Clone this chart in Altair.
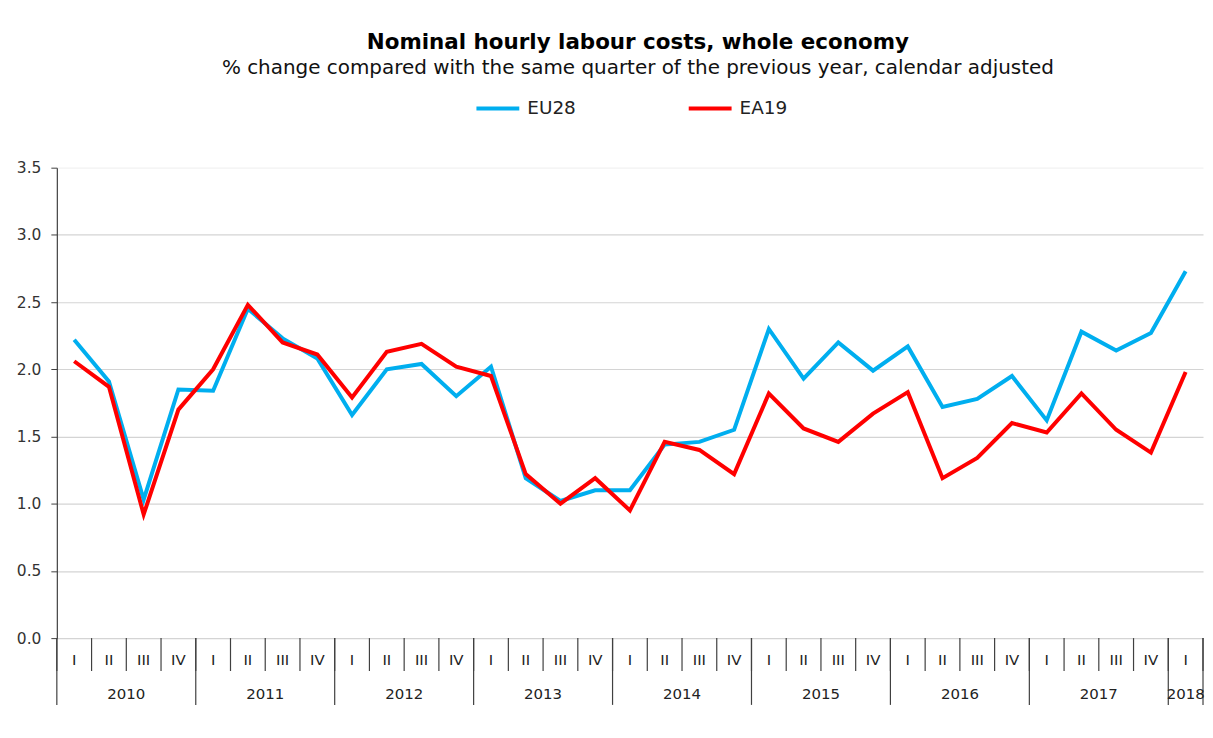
import altair as alt
import pandas as pd

years = ["2010", "2011", "2012", "2013", "2014", "2015", "2016", "2017", "2018"]
quarters = ["I", "II", "III", "IV"]

eu28 = [2.22, 1.91, 1.03, 1.85, 1.84, 2.45, 2.23, 2.08, 1.66, 2.00, 2.04,
        1.80, 2.02, 1.19, 1.02, 1.10, 1.10, 1.44, 1.46, 1.55, 2.30, 1.93,
        2.20, 1.99, 2.17, 1.72, 1.78, 1.95, 1.62, 2.28, 2.14, 2.27, 2.73]
ea19 = [2.06, 1.87, 0.92, 1.70, 2.00, 2.48, 2.20, 2.11, 1.79, 2.13, 2.19,
        2.02, 1.95, 1.22, 1.00, 1.19, 0.95, 1.46, 1.40, 1.22, 1.82, 1.56,
        1.46, 1.67, 1.83, 1.19, 1.34, 1.60, 1.53, 1.82, 1.55, 1.38, 1.98]

series_names = ["EU28", "EA19"]
series_colors = ["#00AEEF", "#FF0000"]

n = len(eu28)
W, H = 1150, 472
FONT = "DejaVu Sans"

lines_df = pd.DataFrame({
    "pos": [i + 0.5 for i in range(n)] * 2,
    "value": eu28 + ea19,
    "series": ["EU28"] * n + ["EA19"] * n,
    "order": list(range(n)) * 2,
})
qlab_df = pd.DataFrame({"pos": [i + 0.5 for i in range(n)],
                        "label": [quarters[i % 4] for i in range(n)]})
qtick_df = pd.DataFrame({"pos": list(range(n + 1))})
year_bounds = sorted(set(list(range(0, n, 4)) + [n]))
ytick_df = pd.DataFrame({"pos": year_bounds})
ylab_rows = []
for k, yr in enumerate(years):
    s = 4 * k
    e = min(4 * k + 4, n)
    if s < n:
        ylab_rows.append({"pos": (s + e) / 2, "label": yr})
ylab_df = pd.DataFrame(ylab_rows)

xscale = alt.Scale(domain=[0, n], nice=False, zero=False)

lines = alt.Chart(lines_df).mark_line(strokeWidth=4, strokeJoin="miter").encode(
    x=alt.X("pos:Q", scale=xscale,
            axis=alt.Axis(labels=False, ticks=False, grid=False, title=None,
                          domainColor="#404040", domainWidth=1.2)),
    y=alt.Y("value:Q", scale=alt.Scale(domain=[0, 3.5], nice=False),
            axis=alt.Axis(values=[0, 0.5, 1, 1.5, 2, 2.5, 3, 3.5], format=".1f",
                          title=None, tickSize=6, tickColor="#404040",
                          domainColor="#404040", domainWidth=1.2,
                          labelPadding=10, labelFont=FONT, labelFontSize=15.5,
                          labelColor="#333333",
                          gridColor=alt.condition("datum.value >= 3.5",
                                                  alt.value("#f2f2f2"),
                                                  alt.value("#d4d4d4")),
                          gridWidth=1.2)),
    color=alt.Color("series:N",
                    scale=alt.Scale(domain=series_names, range=series_colors),
                    legend=alt.Legend(title=None, orient="none", direction="horizontal",
                                      legendX=419, legendY=-83,
                                      symbolType="stroke", symbolSize=1849,
                                      symbolStrokeWidth=4, labelOffset=6,
                                      labelFont=FONT, labelFontSize=18.5,
                                      labelColor="#222222", columnPadding=105)),
    detail="series:N",
    order="order:Q",
)

qticks = alt.Chart(qtick_df).mark_rule(color="#404040", strokeWidth=1.2).encode(
    x=alt.X("pos:Q", scale=xscale, axis=None),
    y=alt.value(H), y2=alt.value(H + 33),
)
yticks = alt.Chart(ytick_df).mark_rule(color="#404040", strokeWidth=1.2).encode(
    x=alt.X("pos:Q", scale=xscale, axis=None),
    y=alt.value(H), y2=alt.value(H + 67),
)
qlabels = alt.Chart(qlab_df).mark_text(font=FONT, fontSize=15, color="#222222",
                                       baseline="middle", align="center").encode(
    x=alt.X("pos:Q", scale=xscale, axis=None),
    y=alt.value(H + 22),
    text="label:N",
)
ylabels = alt.Chart(ylab_df).mark_text(font=FONT, fontSize=15, color="#222222",
                                       baseline="middle", align="center").encode(
    x=alt.X("pos:Q", scale=xscale, axis=None),
    y=alt.value(H + 56),
    text="label:N",
)

chart = alt.layer(qticks, yticks, lines, qlabels, ylabels).properties(
    width=W, height=H,
    title=alt.TitleParams(
        text="Nominal hourly labour costs, whole economy",
        subtitle="% change compared with the same quarter of the previous year, calendar adjusted",
        anchor="middle", font=FONT, fontSize=21.5, fontWeight="bold", color="#000000",
        subtitleFont=FONT, subtitleFontSize=20, subtitleColor="#111111",
        subtitlePadding=5, offset=7, dx=8,
    ),
    padding={"left": 49, "top": 159, "right": 2, "bottom": 100},
    autosize="none",
    background="white",
).configure_view(stroke=None)

chart.save("out.html", embed_options={"renderer": "svg", "actions": False})
